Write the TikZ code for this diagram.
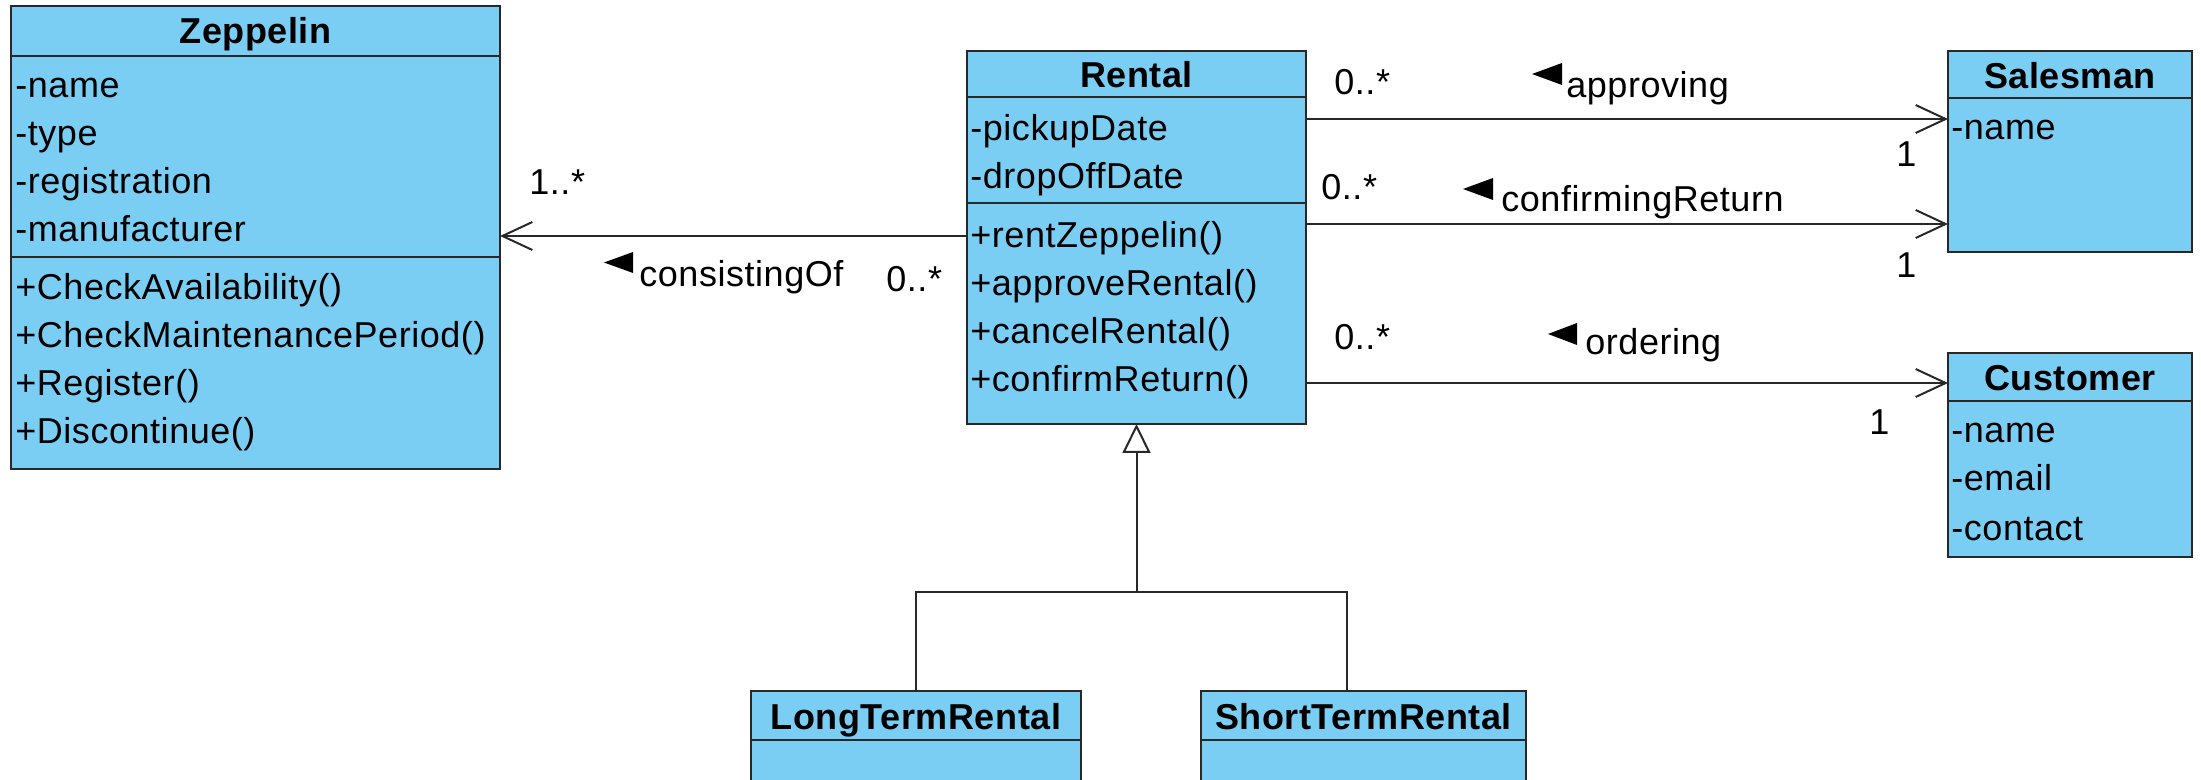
\documentclass[tikz,border=0pt]{standalone}
\usepackage{fontspec}
\setmainfont{Liberation Sans}[LetterSpace=1.5]
\usetikzlibrary{arrows.meta,calc}
\definecolor{classfill}{RGB}{122,206,244}
\definecolor{edgecol}{RGB}{40,40,40}
\begin{document}
\begin{tikzpicture}[x=0.5pt,y=-0.5pt,
 classbox/.style={draw=edgecol,fill=classfill,line width=1.2pt,inner sep=0pt,outer sep=0pt,anchor=north west},
 sepline/.style={draw=edgecol,line width=1.2pt},
 ctitle/.style={font=\fontsize{18}{20}\selectfont\bfseries,anchor=base,inner sep=0pt},
 member/.style={font=\fontsize{18}{20}\selectfont,anchor=base west,inner sep=0pt},
 lbl/.style={font=\fontsize{18}{20}\selectfont,anchor=base west,inner sep=0pt},
 assoc/.style={draw=edgecol,line width=1pt,-{Straight Barb[length=15pt,width=14pt,line width=1pt]}},
 gen/.style={draw=edgecol,line width=1pt,-{Triangle[open,length=14.5pt,width=14pt,fill=white,line width=1pt]}},
 plainline/.style={draw=edgecol,line width=1pt},
 navtri/.style={fill=black}
]
\useasboundingbox (0,0) rectangle (2201,780);
\clip (0,0) rectangle (2201,780);

% ---------- class boxes ----------
\node[classbox,minimum width=244.5pt,minimum height=231.5pt] (zep) at (11,6) {};
\node[classbox,minimum width=169.5pt,minimum height=186.5pt] (rental) at (967,51) {};
\node[classbox,minimum width=122pt,minimum height=100.5pt] (sales) at (1948,51) {};
\node[classbox,minimum width=122pt,minimum height=102pt] (cust) at (1948,353) {};
\node[classbox,minimum width=165pt,minimum height=60pt] (long) at (751,691) {};
\node[classbox,minimum width=162.5pt,minimum height=60pt] (short) at (1201,691) {};

% separators
\draw[sepline] (zep.west |- 0,56) -- (zep.east |- 0,56);
\draw[sepline] (zep.west |- 0,257) -- (zep.east |- 0,257);
\draw[sepline] (rental.west |- 0,97) -- (rental.east |- 0,97);
\draw[sepline] (rental.west |- 0,203) -- (rental.east |- 0,203);
\draw[sepline] (sales.west |- 0,98) -- (sales.east |- 0,98);
\draw[sepline] (cust.west |- 0,401) -- (cust.east |- 0,401);
\draw[sepline] (long.west |- 0,740) -- (long.east |- 0,740);
\draw[sepline] (short.west |- 0,740) -- (short.east |- 0,740);

% titles
\node[ctitle] (zept) at (255.5,44) {Zeppelin};
\node[ctitle] (rentalt) at (1136.5,88) {Rental};
\node[ctitle] (salest) at (2070,89) {Salesman};
\node[ctitle] (custt) at (2070,391) {Customer};
\node[ctitle] (longt) at (916,729) {LongTermRental};
\node[ctitle] (shortt) at (1363.5,729) {ShortTermRental};

% Zeppelin members
\node[member] (z1) at (15,98) {-name};
\node[member] (z2) at (15,146) {-type};
\node[member] (z3) at (15,194) {-registration};
\node[member] (z4) at (15,242) {-manufacturer};
\node[member] (z5) at (15,300) {+CheckAvailability()};
\node[member] (z6) at (15,348) {+CheckMaintenancePeriod()};
\node[member] (z7) at (15,396) {+Register()};
\node[member] (z8) at (15,444) {+Discontinue()};

% Rental members
\node[member] (r1) at (970,141) {-pickupDate};
\node[member] (r2) at (970,189) {-dropOffDate};
\node[member] (r3) at (970,248) {+rentZeppelin()};
\node[member] (r4) at (970,296) {+approveRental()};
\node[member] (r5) at (970,344) {+cancelRental()};
\node[member] (r6) at (970,392) {+confirmReturn()};

% Salesman / Customer members
\node[member] (s1) at (1951,140) {-name};
\node[member] (c1) at (1951,443) {-name};
\node[member] (c2) at (1951,491) {-email};
\node[member] (c3) at (1951,540) {-contact};

% ---------- connectors ----------
\draw[assoc] (rental.west |- 0,236) -- (zep.east |- 0,236);
\draw[assoc] (rental.east |- 0,119) -- (sales.west |- 0,119);
\draw[assoc] (rental.east |- 0,224) -- (sales.west |- 0,224);
\draw[assoc] (rental.east |- 0,383) -- (cust.west |- 0,383);

\coordinate (gj) at (1136.5,592);
\draw[plainline] (long.north) |- (gj) -| (1347,0 |- short.north);
\draw[gen] (gj) -- (rental.south);

% ---------- labels ----------
\node[lbl] (m1) at (529,195) {1..*};
\node[lbl] (m2) at (886,292) {0..*};
\node[lbl] (n1) at (639,287) {consistingOf};
\fill[navtri] (604,262.5) -- (633,252) -- (633,273) -- cycle;

\node[lbl] (m3) at (1334,95) {0..*};
\node[lbl] (n2) at (1566,98) {approving};
\fill[navtri] (1532,74) -- (1562,63) -- (1562,85) -- cycle;
\node[lbl] (m4) at (1896,167) {1};

\node[lbl] (m5) at (1321,200) {0..*};
\node[lbl] (n3) at (1501,212) {confirmingReturn};
\fill[navtri] (1463,189) -- (1493,178) -- (1493,200) -- cycle;
\node[lbl] (m6) at (1896,278) {1};

\node[lbl] (m7) at (1334,350) {0..*};
\node[lbl] (n4) at (1585,355) {ordering};
\fill[navtri] (1548,334) -- (1577,323) -- (1577,345) -- cycle;
\node[lbl] (m8) at (1869,435) {1};
\end{tikzpicture}
\end{document}
